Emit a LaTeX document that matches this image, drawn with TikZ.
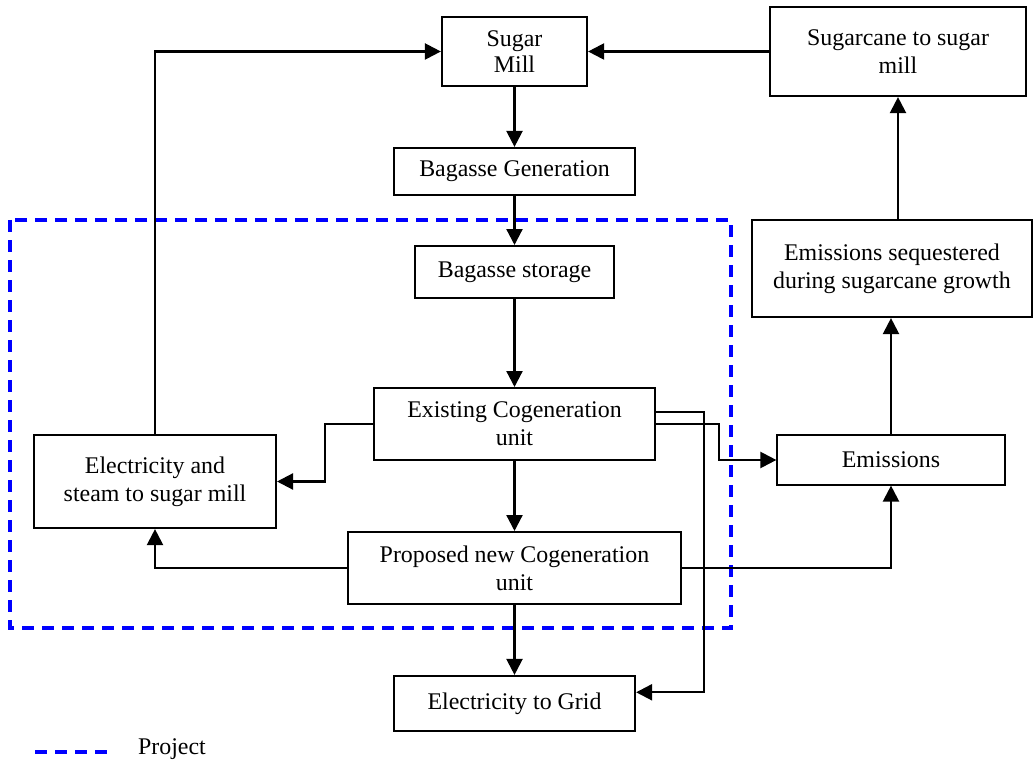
\documentclass[tikz,border=0pt]{standalone}
\usepackage{fontspec}
\setmainfont{Liberation Serif}
\usepackage{tikz}
\usetikzlibrary{arrows.meta}

\begin{document}
\begin{tikzpicture}[
  x=0.025cm, y=-0.025cm,
  font=\fontsize{17}{20}\selectfont,
  box/.style={draw, line width=1.4pt, align=center, inner sep=2pt},
  arrow/.style={-{Triangle[length=0.4cm, width=0.4cm]}, line width=1.6pt},
  project/.style={draw=blue, line width=2.2pt, dash pattern=on 0.3cm off 0.2cm},
]
  \useasboundingbox (0,0) rectangle (1034,760);

  \draw[project] (10,220) rectangle (731,628);

  \node[box, minimum width=3.63cm, minimum height=1.73cm] (mill) at (514.5,51.5) {\raisebox{-0.2cm}{\shortstack{Sugar\\Mill}}};
  \node[box, minimum width=6.4cm, minimum height=2.23cm] (cane) at (898,51.5) {Sugarcane to sugar\\mill};
  \node[box, minimum width=6.0cm, minimum height=1.18cm] (bgen) at (514.5,171.5) {Bagasse Generation};
  \node[box, minimum width=4.95cm, minimum height=1.3cm] (bstor) at (514.5,272) {Bagasse storage};
  \node[box, minimum width=7.0cm, minimum height=2.43cm] (seq) at (892,268.5) {Emissions sequestered\\during sugarcane growth};
  \node[box, minimum width=7.03cm, minimum height=1.8cm] (exist) at (514.5,424) {Existing Cogeneration\\unit};
  \node[box, minimum width=6.05cm, minimum height=2.33cm] (elec) at (155,481.5) {Electricity and\\steam to sugar mill};
  \node[box, minimum width=5.68cm, minimum height=1.23cm] (emis) at (891,460) {Emissions};
  \node[box, minimum width=8.33cm, minimum height=1.8cm] (prop) at (514.5,568) {Proposed new Cogeneration\\unit};
  \node[box, minimum width=6.03cm, minimum height=1.38cm] (grid) at (514.5,703.5) {Electricity to Grid};

  \draw[arrow] (mill) -- (bgen);
  \draw[arrow] (bgen) -- (bstor);
  \draw[arrow] (bstor) -- (exist);
  \draw[arrow] (exist) -- (prop);
  \draw[arrow] (prop) -- (grid);
  \draw[arrow] (cane) -- (mill);
  \draw[arrow] (elec.north) |- (mill.west);
  \draw[arrow] (exist.west) -- ++(-48,0) |- (elec.east);
  \draw[arrow] (prop.west) -| (elec.south);
  \draw[arrow] (prop.east) -| (emis.south);
  \draw[arrow] (exist.east) -- ++(63,0) |- (emis.west);
  \draw[arrow] ([yshift=0.3cm]exist.east) -- ++(48,0) |- ([yshift=0.28cm]grid.east);
  \draw[arrow] (emis.north) -- (emis.north |- seq.south);
  \draw[arrow] ([xshift=0.15cm]seq.north) -- ([xshift=0.15cm]seq.north |- cane.south);

  \node (legend) at (172,749) {Project};
  \coordinate (key) at (35,752);
  \draw[project] (key) -- ++(72,0);
\end{tikzpicture}
\end{document}
